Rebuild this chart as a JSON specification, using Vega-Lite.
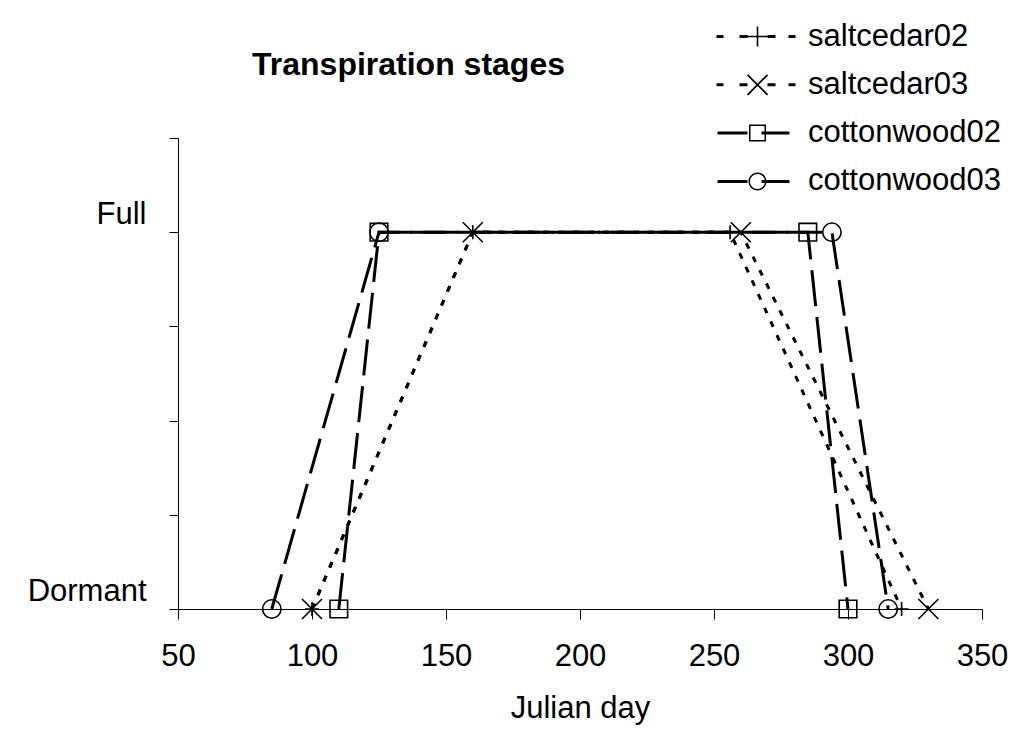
{
  "$schema": "https://vega.github.io/schema/vega-lite/v6.json",
  "width": 804,
  "height": 471,
  "autosize": "none",
  "padding": {"left": 178, "top": 138, "right": 34, "bottom": 124},
  "background": "white",
  "title": {"text": "Transpiration stages", "font": "Liberation Sans", "fontSize": 32, "fontWeight": "bold", "color": "black", "anchor": "start", "frame": "group", "dx": 74, "dy": 149, "offset": 63, "baseline": "alphabetic"},
  "config": {"view": {"stroke": null}, "font": "Liberation Sans"},
  "data": {"values": [
    {"series": "saltcedar02", "day": 100, "stage": 0},
    {"series": "saltcedar02", "day": 160, "stage": 4},
    {"series": "saltcedar02", "day": 256, "stage": 4},
    {"series": "saltcedar02", "day": 320, "stage": 0},
    {"series": "saltcedar03", "day": 100, "stage": 0},
    {"series": "saltcedar03", "day": 160, "stage": 4},
    {"series": "saltcedar03", "day": 260, "stage": 4},
    {"series": "saltcedar03", "day": 330, "stage": 0},
    {"series": "cottonwood02", "day": 110, "stage": 0},
    {"series": "cottonwood02", "day": 125, "stage": 4},
    {"series": "cottonwood02", "day": 285, "stage": 4},
    {"series": "cottonwood02", "day": 300, "stage": 0},
    {"series": "cottonwood03", "day": 85, "stage": 0},
    {"series": "cottonwood03", "day": 125, "stage": 4},
    {"series": "cottonwood03", "day": 294, "stage": 4},
    {"series": "cottonwood03", "day": 315, "stage": 0}
  ]},
  "encoding": {
    "x": {"field": "day", "type": "quantitative",
      "scale": {"domain": [50, 350], "nice": false, "zero": false},
      "axis": {"values": [50, 100, 150, 200, 250, 300, 350], "grid": false, "title": "Julian day",
        "domainColor": "black", "tickColor": "black", "tickSize": 10, "labelFontSize": 31, "labelColor": "black",
        "labelFont": "Liberation Sans", "labelPadding": 22, "titleFont": "Liberation Sans", "titleFontSize": 31,
        "titleFontWeight": "normal", "titleColor": "black", "titlePadding": 22, "labelFlush": false}},
    "y": {"field": "stage", "type": "quantitative",
      "scale": {"domain": [0, 5], "nice": false},
      "axis": {"values": [0, 1, 2, 3, 4, 5], "grid": false, "title": null,
        "labelExpr": "datum.value === 4 ? 'Full' : datum.value === 0 ? 'Dormant' : ''",
        "domainColor": "black", "tickColor": "black", "tickSize": 9, "labelFontSize": 31, "labelColor": "black",
        "labelFont": "Liberation Sans", "labelPadding": 23, "labelOffset": -18, "labelFlush": false}}
  },
  "layer": [
    {
      "mark": {"type": "line", "color": "black", "strokeWidth": 3, "strokeCap": "butt"},
      "encoding": {
        "strokeDash": {"field": "series", "type": "nominal",
          "scale": {"domain": ["saltcedar02", "saltcedar03", "cottonwood02", "cottonwood03"],
                    "range": [[6, 9], [6, 9], [36, 11], [36, 11]]},
          "legend": {"title": null, "orient": "none", "legendX": 564, "legendY": -117, "padding": 0,
            "rowPadding": 16.3, "symbolSize": 400, "labelOffset": 35, "labelFontSize": 31,
            "labelFont": "Liberation Sans", "labelColor": "black", "labelLimit": 400,
            "symbolDash": [1, 0], "symbolFillColor": "black", "symbolStrokeColor": "transparent", "symbolStrokeWidth": 0,
            "encode": {"symbols": {"update": {
              "fill": {"value": "black"}, "fillOpacity": {"value": 1},
              "stroke": {"value": "transparent"}, "strokeWidth": {"value": 0},
              "strokeDash": {"value": [1, 0]}, "size": {"value": 400},
              "shape": {"signal": "datum.value === 'saltcedar02' ? 'M -4.1 -0.15 H -3.4 V 0.15 H -4.1 Z M -1.8 -0.15 H -1.0 V 0.15 H -1.8 Z M 1.0 -0.15 H 1.8 V 0.15 H 1.0 Z M 3.1 -0.15 H 3.8 V 0.15 H 3.1 Z M -1.0 -0.08 H 1.0 V 0.08 H -1.0 Z M -0.08 -1.0 H 0.08 V 1.0 H -0.08 Z' : datum.value === 'saltcedar03' ? 'M -4.1 -0.15 H -3.4 V 0.15 H -4.1 Z M -1.8 -0.15 H -1.0 V 0.15 H -1.8 Z M 1.0 -0.15 H 1.8 V 0.15 H 1.0 Z M 3.1 -0.15 H 3.8 V 0.15 H 3.1 Z M -1.06 -0.94 L 0.94 1.06 L 1.06 0.94 L -0.94 -1.06 Z M -0.94 1.06 L 1.06 -0.94 L 0.94 -1.06 L -1.06 0.94 Z' : datum.value === 'cottonwood02' ? 'M -4.0 -0.15 H -1.0 V 0.15 H -4.0 Z M 0.4 -0.15 H 3.2 V 0.15 H 0.4 Z M -0.85 -0.85 H 0.85 V 0.85 H -0.85 Z M -0.7 -0.7 V 0.7 H 0.7 V -0.7 Z' : 'M -4.0 -0.15 H -1.0 V 0.15 H -4.0 Z M 0.4 -0.15 H 3.2 V 0.15 H 0.4 Z M 0.9 0 A 0.9 0.9 0 1 1 -0.9 0 A 0.9 0.9 0 1 1 0.9 0 Z M 0.75 0 A 0.75 0.75 0 1 0 -0.75 0 A 0.75 0.75 0 1 0 0.75 0 Z'"}
            }}}}
        }
      }
    },
    {
      "transform": [{"filter": "datum.series === 'saltcedar02'"}],
      "mark": {"type": "point", "filled": false, "stroke": "black", "strokeWidth": 1.6, "size": 400, "opacity": 1, "shape": "M -0.7 0 H 0.7 M 0 -0.7 V 0.7"}
    },
    {
      "transform": [{"filter": "datum.series === 'saltcedar03'"}],
      "mark": {"type": "point", "filled": false, "stroke": "black", "strokeWidth": 1.6, "size": 400, "opacity": 1, "shape": "M -1 -1 L 1 1 M -1 1 L 1 -1"}
    },
    {
      "transform": [{"filter": "datum.series === 'cottonwood02'"}],
      "mark": {"type": "point", "filled": false, "stroke": "black", "strokeWidth": 1.6, "size": 400, "opacity": 1, "shape": "M -0.88 -0.88 H 0.88 V 0.88 H -0.88 Z"}
    },
    {
      "transform": [{"filter": "datum.series === 'cottonwood03'"}],
      "mark": {"type": "point", "filled": false, "stroke": "black", "strokeWidth": 1.6, "size": 400, "opacity": 1, "shape": "M 0.92 0 A 0.92 0.92 0 1 1 -0.92 0 A 0.92 0.92 0 1 1 0.92 0 Z"}
    }
  ]
}
